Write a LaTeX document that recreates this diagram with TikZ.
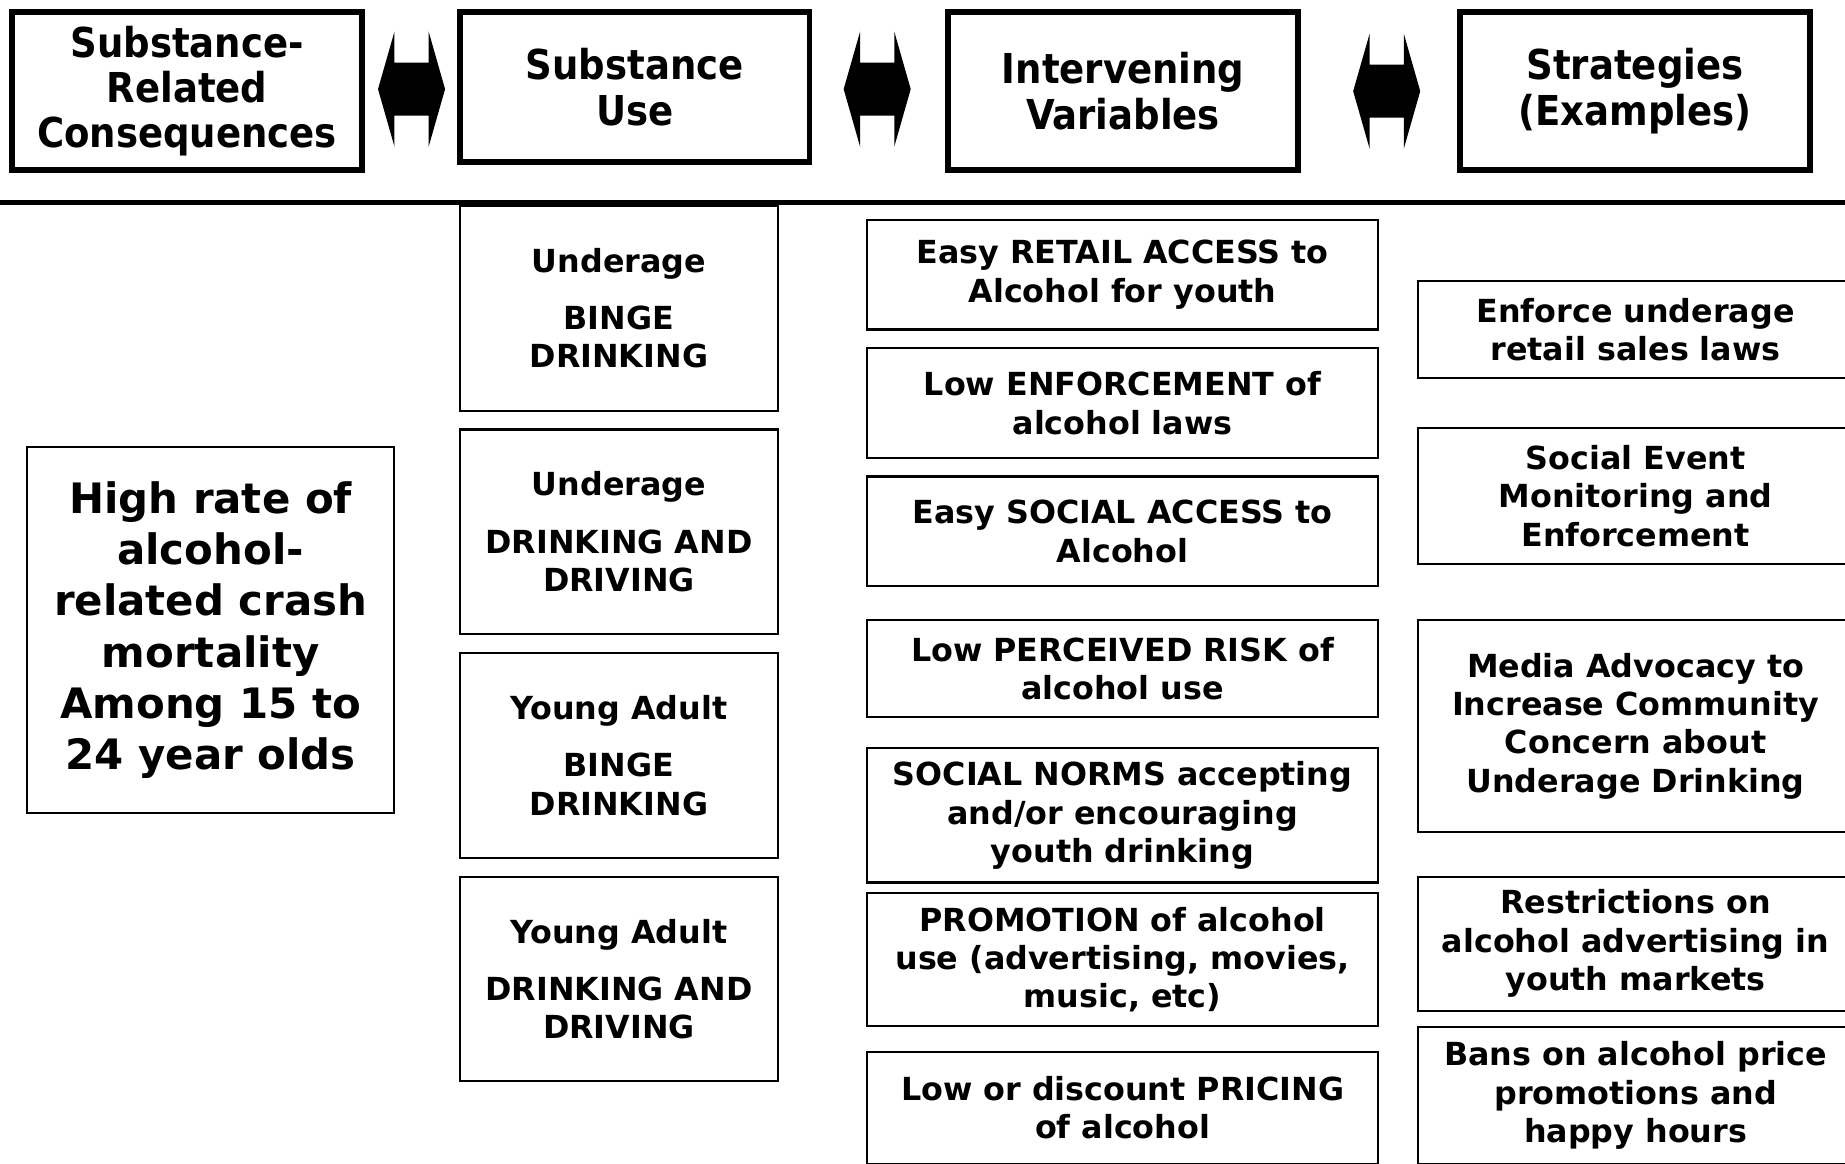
\documentclass[tikz,border=0pt]{standalone}
\usepackage{fontspec}
\setmainfont{DejaVu Sans}
\newfontfamily\headfont{DejaVu Sans Condensed}
\usetikzlibrary{calc}

\begin{document}
\begin{tikzpicture}[x=0.5pt, y=-0.5pt,
    head/.style={draw, line width=2.5pt, align=center, inner sep=0pt, minimum width=148.5pt, minimum height=67pt, font=\headfont\bfseries\fontsize{17.5}{19.3}\selectfont},
    box/.style={draw, line width=0.9pt, align=center, inner sep=0pt, font=\bfseries\fontsize{13.5}{16.3}\selectfont},
    use/.style={box, minimum width=135pt, minimum height=87pt},
    var/.style={box, minimum width=217pt},
    strat/.style={box, minimum width=185pt}]
    \useasboundingbox (0,0) rectangle (1568,989);
    % column headings
    \node[head] (hcons) at (159,77.5) {Substance-\\Related\\Consequences};
    \node[head, minimum height=63.5pt] (huse) at (539.5,74) {Substance\\Use};
    \node[head] (hvar) at (954.5,77.5) {Intervening\\Variables};
    \node[head] (hstrat) at (1389.5,77.5) {Strategies\\(Examples)};
    \foreach \a/\b/\dx in {hcons/huse/0.5, huse/hvar/-1.5, hvar/hstrat/6.5}
      \fill[shift={($(\a.east)!0.5!(\b.west)$)}, xshift=\dx*0.5pt] (-28.5,0) -- (-14.5,-49) -- (-14.5,-22.5) -- (14.5,-22.5) -- (14.5,-49) -- (28.5,0)
        -- (14.5,49) -- (14.5,22.5) -- (-14.5,22.5) -- (-14.5,49) -- cycle;
    \draw[line width=2pt] (0,172) -- (1568,172);
    % consequence
    \node[box, minimum width=156pt, minimum height=155.5pt, font=\bfseries\fontsize{17.8}{21.8}\selectfont] (crash) at (179,535.5) {High rate of\\alcohol-\\related crash\\mortality\\Among 15 to\\24 year olds};
    % substance use
    \node[use] (ubinge) at (526,262) {Underage\\[8pt]BINGE\\DRINKING};
    \node[use] (udrive) at (526,452) {Underage\\[8pt]DRINKING AND\\DRIVING};
    \node[use] (ybinge) at (526,642) {Young Adult\\[8pt]BINGE\\DRINKING};
    \node[use] (ydrive) at (526,832) {Young Adult\\[8pt]DRINKING AND\\DRIVING};
    % intervening variables
    \node[var, minimum height=46.5pt] (retail) at (954,233.5) {Easy RETAIL ACCESS to\\Alcohol for youth};
    \node[var, minimum height=46.5pt] (enforce) at (954,342.5) {Low ENFORCEMENT of\\alcohol laws};
    \node[var, minimum height=46.5pt] (social) at (954,451.5) {Easy SOCIAL ACCESS to\\Alcohol};
    \node[var, minimum height=41pt] (risk) at (954,568) {Low PERCEIVED RISK of\\alcohol use};
    \node[var, minimum height=57pt] (norms) at (954,693) {SOCIAL NORMS accepting\\and/or encouraging\\youth drinking};
    \node[var, minimum height=56.5pt] (promo) at (954,815.5) {PROMOTION of alcohol\\use (advertising, movies,\\music, etc)};
    \node[var, minimum height=47.5pt] (pricing) at (954,941.5) {Low or discount PRICING\\of alcohol};
    % strategies
    \node[strat, minimum height=41pt] (sales) at (1390,280) {Enforce underage\\retail sales laws};
    \node[strat, minimum height=57.5pt] (events) at (1390,421.5) {Social Event\\Monitoring and\\Enforcement};
    \node[strat, minimum height=90pt] (media) at (1390,617) {Media Advocacy to\\Increase Community\\Concern about\\Underage Drinking};
    \node[strat, minimum height=57pt] (adverts) at (1390,802) {Restrictions on\\alcohol advertising in\\youth markets};
    \node[strat, minimum height=58pt] (bans) at (1390,931) {Bans on alcohol price\\promotions and\\happy hours};
  \end{tikzpicture}
\end{document}
